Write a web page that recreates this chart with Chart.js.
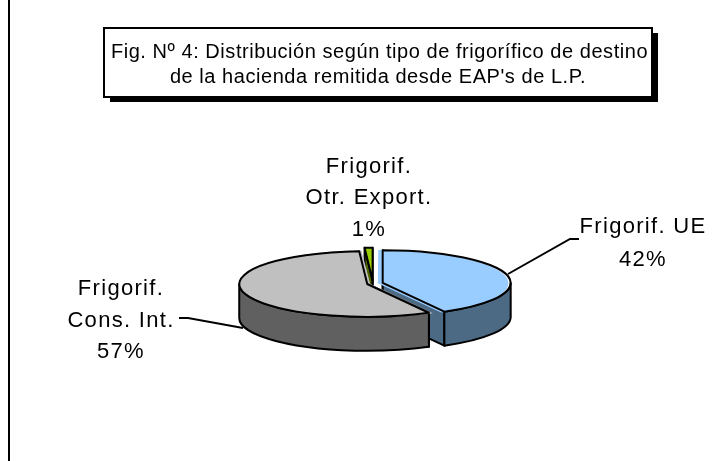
<!DOCTYPE html>
<html><head><meta charset="utf-8">
<style>html,body{margin:0;padding:0;background:#fff}#w{width:728px;height:461px}</style>
<script src="https://cdn.jsdelivr.net/npm/chart.js@4"></script></head>
<body><div id="w"><canvas id="c" width="728" height="461"></canvas></div>
<script>
const categories = [["Frigorif. UE"], ["Frigorif.", "Cons. Int."], ["Frigorif.", "Otr. Export."]];
const shares = [42, 57, 1];
const explode = [20, 12, 24];
const topColors = ["#99ccff", "#c0c0c0", "#99cc00"];
const wallColors = ["#4d6a85", "#606060", "#4d6600"];
const titleLines = ["Fig. Nº 4: Distribución según tipo de frigorífico de destino", "de la hacienda remitida desde EAP's de L.P."];

const SQUASH = 0.256, DEPTH = 34, CX = 373, CY = 283.6;
const FONT = '"Liberation Sans", Arial, sans-serif';

function project(ctx, chart) {
  const c = chart.getDatasetMeta(0).data[0];
  ctx.translate(CX, CY);
  ctx.scale(1, SQUASH);
  ctx.translate(-c.x, -c.y);
}
function geom(el, i) {
  const p = el.getProps(["x","y","startAngle","endAngle","outerRadius"], true);
  const mid = (p.startAngle + p.endAngle) / 2, o = explode[i] / 2;
  return {x: p.x + o*Math.cos(mid), y: p.y + o*Math.sin(mid), s: p.startAngle, e: p.endAngle, r: p.outerRadius};
}
function wallPath(ctx, g, kind) {
  const d = DEPTH / SQUASH;
  ctx.beginPath();
  if (kind === "rim") {
    const a = Math.max(g.s, 0), b = Math.min(g.e, Math.PI);
    if (b <= a) return false;
    ctx.arc(g.x, g.y, g.r, a, b);
    ctx.arc(g.x, g.y + d, g.r, b, a, true);
    ctx.closePath();
  } else {
    const t = kind === "start" ? g.s : g.e;
    const px = g.x + g.r*Math.cos(t), py = g.y + g.r*Math.sin(t);
    ctx.moveTo(g.x, g.y); ctx.lineTo(px, py); ctx.lineTo(px, py + d); ctx.lineTo(g.x, g.y + d);
    ctx.closePath();
  }
  return true;
}
const pie3d = {
  id: "pie3d",
  beforeDatasetsDraw(chart) {
    const ctx = chart.ctx, arcs = chart.getDatasetMeta(0).data;
    ctx.save();
    ctx.lineWidth = 2; ctx.strokeStyle = "#000"; ctx.lineJoin = "round";
    [2, 0, 1].forEach(i => {
      const g = geom(arcs[i], i);
      ["start", "end", "rim"].forEach(k => {
        ctx.save(); project(ctx, chart);
        const ok = wallPath(ctx, g, k);
        ctx.restore();
        if (ok) { ctx.fillStyle = wallColors[i]; ctx.fill(); ctx.stroke(); }
      });
    });
    ctx.restore();
    ctx.save();
    project(ctx, chart);
  },
  afterDatasetsDraw(chart) {
    const ctx = chart.ctx, arcs = chart.getDatasetMeta(0).data;
    ctx.restore();
    ctx.save();
    ctx.lineWidth = 2; ctx.strokeStyle = "#000"; ctx.lineJoin = "round";
    arcs.forEach((el, i) => {
      const g = geom(el, i);
      ctx.save(); project(ctx, chart);
      ctx.beginPath(); ctx.moveTo(g.x, g.y); ctx.arc(g.x, g.y, g.r, g.s, g.e); ctx.closePath();
      ctx.restore();
      ctx.stroke();
    });
    ctx.restore();
    decorate(ctx);
  }
};
function decorate(ctx) {
  ctx.save();
  ctx.fillStyle = "#000"; ctx.fillRect(8, 0, 2, 461);
  // title box
  ctx.fillStyle = "#000"; ctx.fillRect(110, 33, 548, 69);
  ctx.fillStyle = "#fff"; ctx.fillRect(104, 28, 548, 69);
  ctx.strokeStyle = "#000"; ctx.lineWidth = 2; ctx.strokeRect(104, 28, 548, 69);
  ctx.fillStyle = "#000"; ctx.textAlign = "center"; ctx.textBaseline = "alphabetic";
  ctx.font = "20px " + FONT;
  ctx.letterSpacing = "0.55px";
  ctx.fillText(titleLines[0], 379.5, 58);
  ctx.fillText(titleLines[1], 378, 83);
  // leaders
  ctx.lineWidth = 2;
  ctx.beginPath(); ctx.moveTo(508, 274); ctx.lineTo(570, 239); ctx.lineTo(579, 239); ctx.stroke();
  ctx.beginPath(); ctx.moveTo(179, 318); ctx.lineTo(188, 318); ctx.lineTo(243, 328); ctx.stroke();
  // slice labels
  ctx.font = "22px " + FONT;
  ctx.letterSpacing = "1.3px";
  const spots = [[643, [233, 266]], [121, [295, 327, 358]], [369, [173, 204, 236]]];
  categories.forEach((lines, i) => {
    const all = lines.concat(shares[i] + "%");
    all.forEach((t, j) => ctx.fillText(t, spots[i][0], spots[i][1][j]));
  });
  ctx.restore();
}
new Chart(document.getElementById("c"), {
  type: "pie",
  data: { labels: categories.map(l => l.join(" ")),
    datasets: [{ data: shares, backgroundColor: topColors, borderWidth: 0, offset: explode, clip: false }] },
  options: { responsive: false, animation: false, radius: 128,
    plugins: { legend: { display: false }, tooltip: { enabled: false } },
    events: [] },
  plugins: [pie3d]
});
</script></body></html>
